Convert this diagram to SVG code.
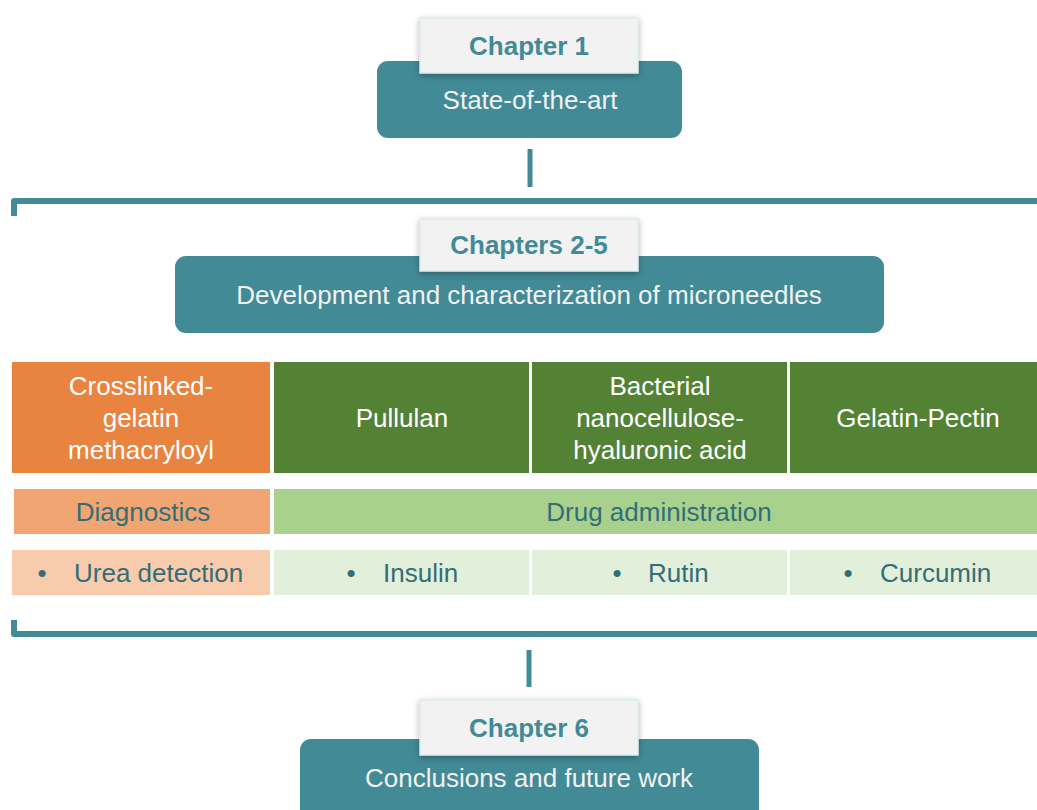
<svg xmlns="http://www.w3.org/2000/svg" width="1037" height="810" viewBox="0 0 1037 810">
<style>
text{font-family:"Liberation Sans",Arial,sans-serif;text-anchor:middle}
.main{fill:#428A96}
.mt{fill:#F2F2F2;font-size:26px}
.lab{fill:#F2F2F2;stroke:#DCEBEE;stroke-width:1.5}
.lt{fill:#428A96;font-size:26px;font-weight:bold}
.hd{fill:#FFFFFF;font-size:26px}
.dk{fill:#336E78;font-size:26px}
.st{text-anchor:start}
.conn{stroke:#428A96;stroke-width:5;fill:none}
.br{stroke:#428A96;stroke-width:6;fill:none;stroke-linejoin:round}
</style>
<defs>
<filter id="sh" x="-10%" y="-20%" width="120%" height="150%">
<feDropShadow dx="0" dy="2" stdDeviation="3" flood-color="#000" flood-opacity="0.3"/>
</filter>
</defs>
<rect width="1037" height="810" fill="#FFFFFF"/>
<g id="connectors">
<line class="conn" x1="530" y1="149" x2="530" y2="187"/>
<path class="br" d="M14 216 V201 H1040"/>
<path class="br" d="M14 620 V634 H1040"/>
<line class="conn" x1="529" y1="650" x2="529" y2="687"/>
</g>
<g id="ch1">
<rect class="main" x="377" y="61" width="305" height="77" rx="11"/>
<text class="mt" x="530" y="109">State-of-the-art</text>
<rect class="lab" x="420" y="18" width="218" height="55" filter="url(#sh)"/>
<text class="lt" x="529" y="55">Chapter 1</text>
</g>
<g id="ch25">
<rect class="main" x="175" y="256" width="709" height="77" rx="11"/>
<text class="mt" x="529" y="304">Development and characterization of microneedles</text>
<rect class="lab" x="420" y="219" width="218" height="52" filter="url(#sh)"/>
<text class="lt" x="529" y="254">Chapters 2-5</text>
</g>
<g id="gelma">
<rect x="12" y="362" width="258" height="111" fill="#E8843F"/>
<text class="hd" x="141" y="395">Crosslinked-</text>
<text class="hd" x="141" y="427">gelatin</text>
<text class="hd" x="141" y="459">methacryloyl</text>
</g>
<g id="pullulan">
<rect x="274" y="362" width="255" height="111" fill="#548235"/>
<text class="hd" x="402" y="427">Pullulan</text>
</g>
<g id="bnc">
<rect x="532" y="362" width="255" height="111" fill="#548235"/>
<text class="hd" x="660" y="395">Bacterial</text>
<text class="hd" x="660" y="427">nanocellulose-</text>
<text class="hd" x="660" y="459">hyaluronic acid</text>
</g>
<g id="gelpec">
<rect x="790" y="362" width="250" height="111" fill="#548235"/>
<text class="hd" x="918" y="427">Gelatin-Pectin</text>
</g>
<g id="diag">
<rect x="14" y="489" width="256" height="45" fill="#F0A572"/>
<text class="dk" x="143" y="521">Diagnostics</text>
</g>
<g id="drug">
<rect x="274" y="489" width="766" height="45" fill="#A9D18E"/>
<text class="dk" x="659" y="521">Drug administration</text>
</g>
<g id="urea">
<rect x="12" y="550" width="258" height="45" fill="#F8CBAD"/>
<text class="dk" x="42" y="582">•</text>
<text class="dk st" x="74" y="582">Urea detection</text>
</g>
<g id="insulin">
<rect x="274" y="550" width="255" height="45" fill="#E2EFDA"/>
<text class="dk" x="351" y="582">•</text>
<text class="dk st" x="383" y="582">Insulin</text>
</g>
<g id="rutin">
<rect x="532" y="550" width="255" height="45" fill="#E2EFDA"/>
<text class="dk" x="617" y="582">•</text>
<text class="dk st" x="648" y="582">Rutin</text>
</g>
<g id="curcumin">
<rect x="790" y="550" width="250" height="45" fill="#E2EFDA"/>
<text class="dk" x="848" y="582">•</text>
<text class="dk st" x="880" y="582">Curcumin</text>
</g>
<g id="ch6">
<rect class="main" x="300" y="739" width="459" height="85" rx="11"/>
<text class="mt" x="529" y="787">Conclusions and future work</text>
<rect class="lab" x="420" y="700" width="218" height="55" filter="url(#sh)"/>
<text class="lt" x="529" y="737">Chapter 6</text>
</g>
</svg>
